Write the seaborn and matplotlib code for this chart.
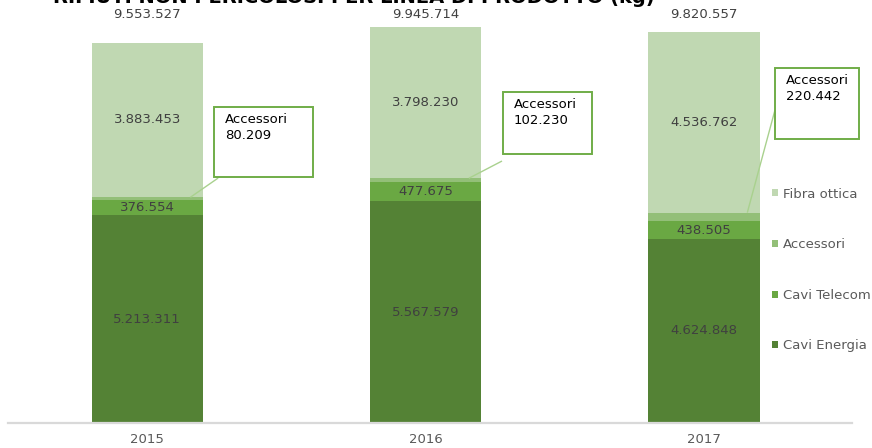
import matplotlib
matplotlib.use("Agg")
import matplotlib.pyplot as plt
import pandas as pd
import seaborn as sns
from matplotlib.patches import Patch, Rectangle

# Waste by product line (kg)
years = ["2015", "2016", "2017"]
cavi_energia = [5213311, 5567579, 4624848]
cavi_telecom = [376554, 477675, 438505]
accessori = [80209, 102230, 220442]
fibra_ottica = [3883453, 3798230, 4536762]

series_names = ["Cavi Energia", "Cavi Telecom", "Accessori", "Fibra ottica"]
series_colors = ["#548235", "#6AA843", "#93BF78", "#C0D8B2"]

title = "RIFIUTI NON PERICOLOSI PER LINEA DI PRODOTTO (kg)"


def fmt(v):
    return f"{v:,}".replace(",", ".")


df = pd.DataFrame({
    "Anno": years,
    "Cavi Energia": cavi_energia,
    "Cavi Telecom": cavi_telecom,
    "Accessori": accessori,
    "Fibra ottica": fibra_ottica,
})
cum = df[series_names].cumsum(axis=1)
cum.insert(0, "Anno", df["Anno"])
totals = cum["Fibra ottica"].tolist()

sns.set_theme(style="white")
plt.rcParams["font.family"] = ["DejaVu Sans"]

W, H = 872, 448
fig = plt.figure(figsize=(W / 100, H / 100), dpi=100)
ax = fig.add_axes([8 / W, 25 / H, 844 / W, 423 / H])

# stacked bars: cumulative heights drawn from the tallest layer down
for name, color in reversed(list(zip(series_names, series_colors))):
    sns.barplot(data=cum, x="Anno", y=name, order=years, color=color,
                saturation=1, width=0.4, errorbar=None, linewidth=0, ax=ax)

ax.set_xlim(-0.5, 2.531)
ax.set_ylim(0, 10.626e6)
ax.set_xlabel("")
ax.set_ylabel("")
ax.set_yticks([])
for s in ("left", "right", "top"):
    ax.spines[s].set_visible(False)
ax.spines["bottom"].set_color("#D9D9D9")
ax.spines["bottom"].set_linewidth(1.6)
ax.tick_params(axis="x", length=0, pad=7, labelsize=9.5, labelcolor="#595959")

lab = dict(ha="center", va="center", fontsize=9.5, color="#404040")
for i in range(len(years)):
    e, t, a, f = cavi_energia[i], cavi_telecom[i], accessori[i], fibra_ottica[i]
    ax.text(i, e / 2, fmt(e), **lab)
    ax.text(i, e + t / 2, fmt(t), **lab)
    ax.text(i, e + t + a + f / 2, fmt(f), **lab)
    ax.text(i, 10.25e6, fmt(totals[i]), **lab)

# callout boxes for the thin "Accessori" layer
box_left = [0.2396, 1.2777, 2.2544]
box_width = [0.356, 0.3197, 0.3017]
box_top = [7.938e6, 8.315e6, 8.917e6]
box_height = [1.759e6, 1.558e6, 1.783e6]
leader_start = [(0.2547, 6.154e6), (1.2741, 6.581e6), (2.2544, 7.862e6)]

for i in range(len(years)):
    acc_top = cavi_energia[i] + cavi_telecom[i] + accessori[i]
    sx, sy = leader_start[i]
    ax.plot([sx, i + 0.155], [sy, acc_top], color="#A9D18E", lw=1.0,
            zorder=4, solid_capstyle="butt")
    ax.add_patch(Rectangle((box_left[i], box_top[i] - box_height[i]),
                           box_width[i], box_height[i], facecolor="white",
                           edgecolor="#70AD47", lw=1.4, zorder=5,
                           clip_on=False))
    ax.annotate(f"Accessori\n{fmt(accessori[i])}",
                xy=(box_left[i], box_top[i]), xytext=(11, -6),
                textcoords="offset pixels", ha="left", va="top",
                fontsize=9.5, color="black", linespacing=1.3, zorder=6,
                annotation_clip=False)

handles = [Patch(facecolor=c, edgecolor="none") for c in series_colors][::-1]
fig.legend(handles, series_names[::-1], loc="center left",
           bbox_to_anchor=(772 / W, 1 - 270 / H), frameon=False,
           handlelength=0.45, handleheight=0.45, handletextpad=0.35,
           labelspacing=2.85, fontsize=9.5, labelcolor="#595959",
           borderpad=0, borderaxespad=0)

fig.text(655 / W, 1 - 3 / H, title, ha="right", va="baseline",
         fontsize=14, fontweight="bold", color="black")

fig.savefig("out.png", dpi=100)
